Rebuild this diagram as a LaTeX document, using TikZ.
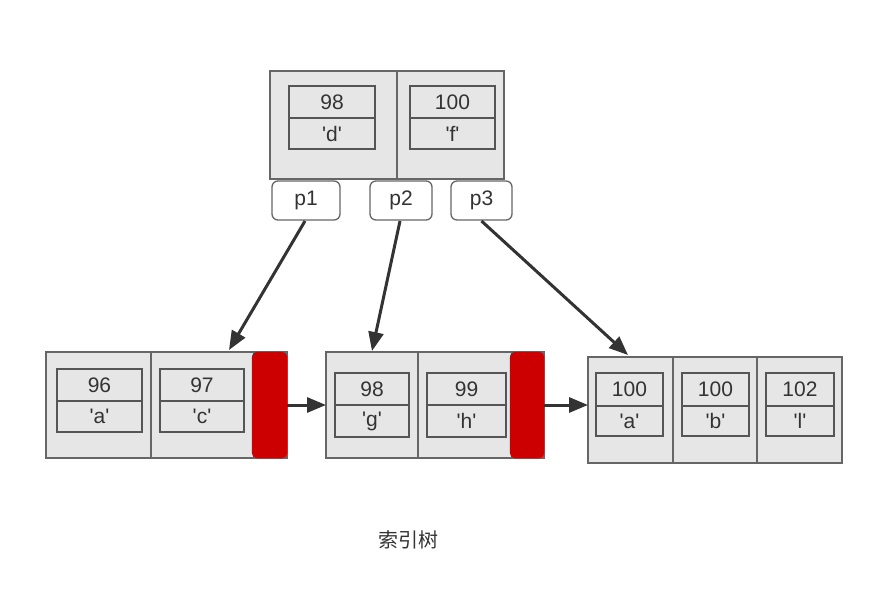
\documentclass[tikz,border=0pt]{standalone}
\usepackage{fontspec}
\newfontfamily\lsans{Liberation Sans}
\newfontfamily\cjk{Noto Sans CJK SC}
\usetikzlibrary{arrows.meta,calc}
\definecolor{boxfill}{HTML}{E6E6E6}
\definecolor{boxline}{HTML}{666666}
\definecolor{cellline}{HTML}{555555}
\definecolor{txt}{HTML}{333333}
\definecolor{redbar}{HTML}{CC0000}
\definecolor{arr}{HTML}{333333}
\newcommand\rb[6][]{\node[#1,minimum width={#4-#2},minimum height={#5-#3}] (#6) at ({(#2+#4)/2},{(#3+#5)/2}) {};}
\newcommand\cell[8]{%
  \node[cellbox,minimum width={#4-#2},minimum height={#5-#3}] (#1a) at ({(#2+#4)/2},{(#3+#5)/2}) {#7};
  \node[cellbox,minimum width={#4-#2},minimum height={#6-#5}] (#1b) at ({(#2+#4)/2},{(#5+#6)/2}) {#8};}
\begin{document}
\begin{tikzpicture}[x=1pt,y=-1pt,
  outerbox/.style={draw=boxline,fill=boxfill,line width=1.5pt,inner sep=0pt,outer sep=0pt},
  cellbox/.style={draw=cellline,fill=boxfill,line width=1.6pt,inner sep=0pt,outer sep=0pt,text=txt,font=\lsans\fontsize{21}{24}\selectfont},
  redbox/.style={draw=redbar,fill=redbar,rounded corners=5pt,inner sep=0pt,outer sep=0pt},
  pbox/.style={draw=boxline,fill=white,rounded corners=6pt,line width=1.3pt,inner sep=0pt,outer sep=0pt,text=txt,font=\lsans\fontsize{21}{24}\selectfont},
  link/.style={draw=arr,line width=3pt,-{Triangle[length=19pt,width=15pt]}}]
\useasboundingbox (0,0) rectangle (886,603);
% top node
\rb[outerbox]{270}{71}{397}{179}{T1}
\rb[outerbox]{397}{71}{504}{179}{T2}
\cell{td}{289}{86}{375}{118}{149}{98}{'d'}
\cell{tf}{410}{86}{495}{118}{149}{100}{'f'}
% pointers
\node[pbox,minimum width=68,minimum height=39] (p1) at (306,200.5) {p1};
\node[pbox,minimum width=62,minimum height=39] (p2) at (401,200.5) {p2};
\node[pbox,minimum width=61,minimum height=39] (p3) at (481.5,200.5) {p3};
% left leaf
\rb[outerbox]{46}{352}{151}{458}{L1}
\rb[outerbox]{151}{352}{287}{458}{L2}
\rb[redbox]{252}{352}{287}{458}{R1}
\cell{la}{57}{369}{142}{401}{432}{96}{'a'}
\cell{lc}{160}{369}{244}{401}{432}{97}{'c'}
% middle leaf
\rb[outerbox]{326}{352}{418}{458}{M1}
\rb[outerbox]{418}{352}{544}{458}{M2}
\rb[redbox]{510}{352}{544}{458}{R2}
\cell{mg}{335}{373}{409}{405}{437}{98}{'g'}
\cell{mh}{427}{373}{506}{405}{437}{99}{'h'}
% right leaf
\rb[outerbox]{588}{357}{673}{463}{N1}
\rb[outerbox]{673}{357}{757}{463}{N2}
\rb[outerbox]{757}{357}{842}{463}{N3}
\cell{na}{596}{373}{663}{406}{436}{100}{'a'}
\cell{nb}{682}{373}{749}{406}{436}{100}{'b'}
\cell{nl}{766}{373}{834}{406}{436}{102}{'l'}
% connectors
\coordinate (e1) at (229,350);
\coordinate (e2) at (372,351);
\coordinate (e3) at (628,355);
\draw[link] ($(p1.south)+(-1,1)$) -- (e1);
\draw[link] ($(p2.south)+(-1,1)$) -- (e2);
\draw[link] ($(p3.south)+(0,1)$) -- (e3);
\draw[link] (R1.east) -- (R1.east -| M1.west);
\draw[link] (R2.east) -- (R2.east -| N1.west);
\node[text=txt,font=\cjk\fontsize{20}{24}\selectfont] (cap) at (408,540) {索引树};
\end{tikzpicture}
\end{document}
